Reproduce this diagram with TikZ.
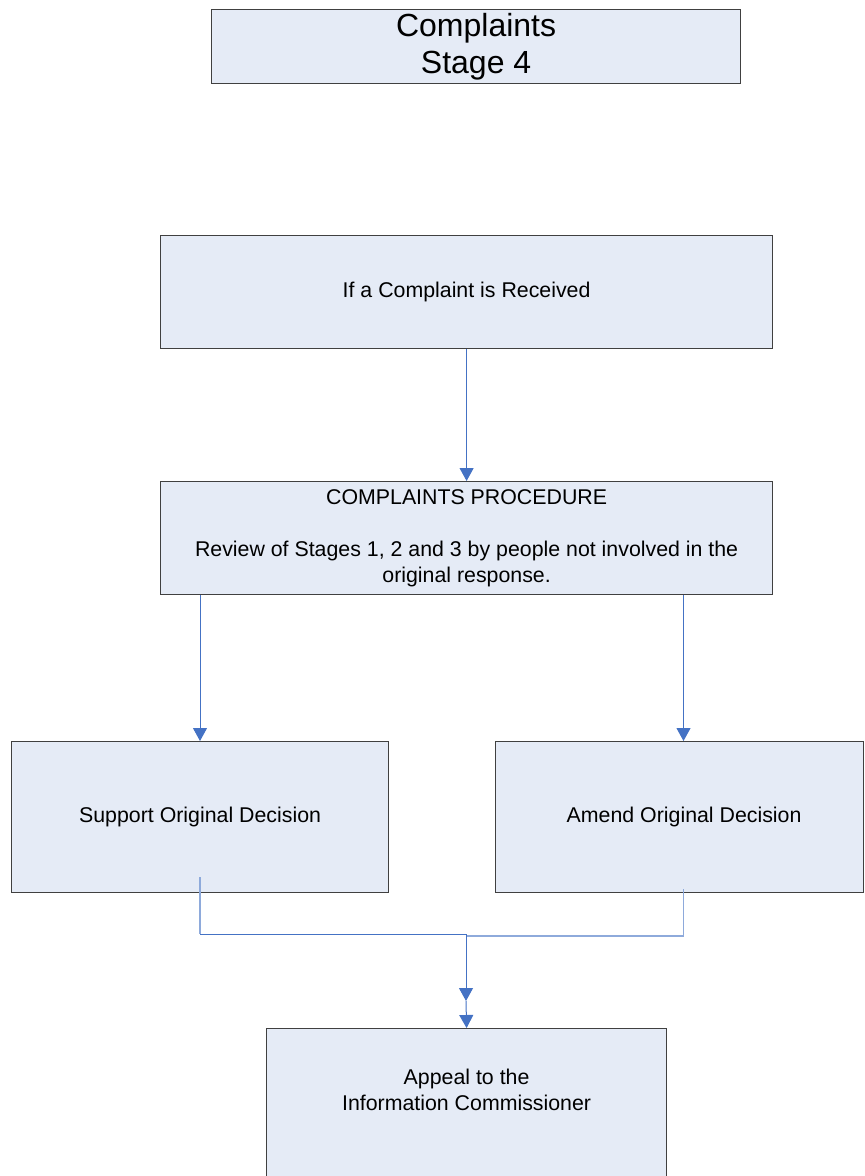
\documentclass[tikz,border=0pt]{standalone}
\usepackage{fontspec}
\setmainfont{Liberation Sans}
\usetikzlibrary{arrows.meta}
\definecolor{boxfill}{HTML}{E5EBF6}
\definecolor{boxline}{HTML}{404040}
\definecolor{flow}{HTML}{4472C4}
\definecolor{flowlight}{HTML}{8EAADB}
\begin{document}
\begin{tikzpicture}[x=0.75pt,y=-0.75pt,
  box/.style={draw=boxline, fill=boxfill, line width=0.9pt, inner sep=0pt,
    align=center, font=\fontsize{16}{19.5}\selectfont},
  flowline/.style={draw=flow, line width=0.75pt},
  feeder/.style={draw=flowlight, line width=0.9pt},
  tip/.style={-{Triangle[width=10.5pt,length=9.75pt]}, flow}]
\useasboundingbox (0,0) rectangle (864,1176);

% boxes
\node[box, anchor=north west, minimum width=396.75pt, minimum height=55.5pt,
  font=\fontsize{24}{27.75}\selectfont] (title) at (211,9) {Complaints\\Stage 4};
\node[box, anchor=north west, minimum width=459pt, minimum height=84.75pt]
  (received) at (160,235) {If a Complaint is Received};
\node[box, anchor=north west, minimum width=459pt, minimum height=84.75pt]
  (procedure) at (160,481)
  {COMPLAINTS PROCEDURE\\[19.5pt]Review of Stages 1, 2 and 3 by people not involved in the\\original response.};
\node[box, anchor=north west, minimum width=282.75pt, minimum height=113.25pt]
  (support) at (11,741) {Support Original Decision};
\node[box, anchor=north west, minimum width=276pt, minimum height=113.25pt]
  (amend) at (495,741) {\hspace*{6.75pt}Amend Original Decision};
\node[box, anchor=north west, minimum width=300pt, minimum height=165pt,
  label={[name=appealtext, anchor=north, yshift=-30.75pt, align=center, inner sep=0pt,
    font=\fontsize{16}{19.5}\selectfont]north:Appeal to the\\Information Commissioner}]
  (appeal) at (266,1028) {};

% connector anchors
\coordinate (leftx) at (200,0);
\coordinate (rightx) at (683.5,0);
\coordinate (supin) at (200,877);
\coordinate (amdin) at (683.5,889);
\coordinate (joinl) at (466,934);
\coordinate (joinr) at (466,936);
\coordinate (mid) at (466,1001);

% connectors
\draw[flowline, tip] (received.south) -- (procedure.north);
\draw[flowline, tip] (procedure.south -| leftx) -- (support.north -| leftx);
\draw[flowline, tip] (procedure.south -| rightx) -- (amend.north -| rightx);
\draw[feeder] (supin) -- (supin |- joinl);
\draw[flowline] (supin |- joinl) -- (joinl);
\draw[feeder] (amdin) |- (joinr);
\draw[flowline, tip] (joinl) -- (mid);
\draw[flowline, tip] (mid) -- (appeal.north);
\end{tikzpicture}
\end{document}
